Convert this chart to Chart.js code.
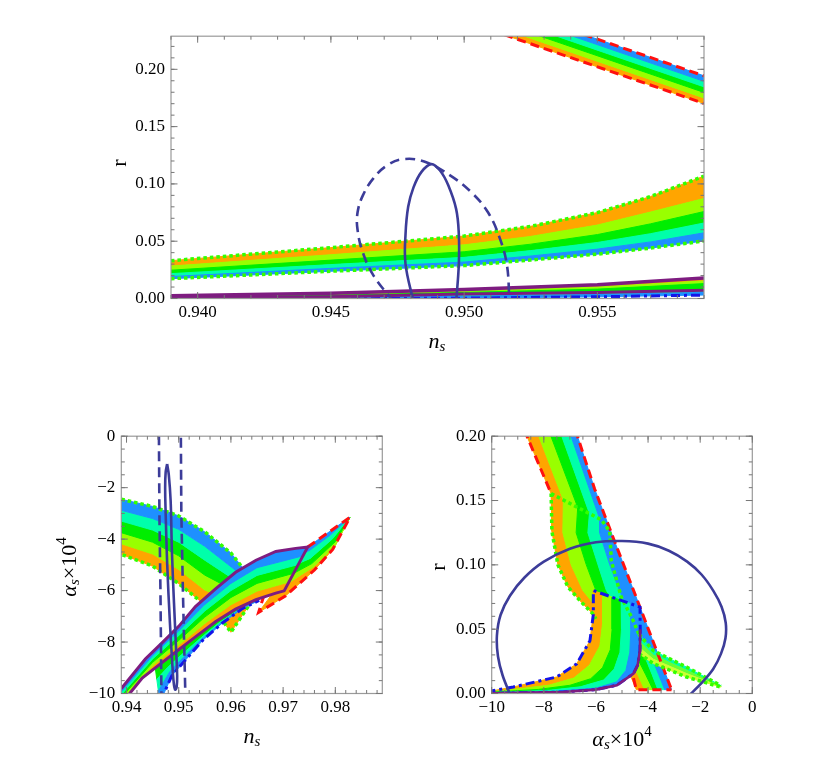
<!DOCTYPE html>
<html>
<head>
<meta charset="utf-8">
<script src="https://cdn.jsdelivr.net/npm/chart.js@4.4.1/dist/chart.umd.min.js"></script>
<style>
  html, body { margin: 0; padding: 0; background: #fff; }
  body { width: 817px; height: 772px; position: relative; overflow: hidden; }
  canvas { position: absolute; }
</style>
</head>
<body>
<canvas id="topChart" width="620" height="340" style="left:100px;top:20px"></canvas>
<canvas id="alphaChart" width="380" height="340" style="left:20px;top:420px"></canvas>
<canvas id="rChart" width="370" height="340" style="left:400px;top:420px"></canvas>
<script>
// ---------- colours ----------
const bandColors = ["#FFA500", "#99FF00", "#00EE00", "#00FFAA", "#1E90FF"];
const navy = "#3C3C99";
const purple = "#7E1C80";
const red = "#FF1010";
const lime = "#33FF00";
const blue = "#1414E8";

// ---------- top panel: r vs n_s ----------
const topTicksX = [0.940, 0.945, 0.950, 0.955];
const topLabelsX = ["0.940", "0.945", "0.950", "0.955"];
const topTicksY = [0, 0.05, 0.10, 0.15, 0.20];
const topLabelsY = ["0.00", "0.05", "0.10", "0.15", "0.20"];

// upper strip (red dashed edges), orange side first
const stripNs = [0.951, 0.959];
const stripR = [
  [0.2342, 0.1702],
  [0.2390, 0.1750],
  [0.2438, 0.1798],
  [0.2487, 0.1847],
  [0.2535, 0.1895],
  [0.2583, 0.1943]
];
// middle band (green dotted edges), orange side first
const bandNs = [0.939, 0.945, 0.950, 0.9525, 0.955, 0.957, 0.959];
const bandR = [
  [0.0330, 0.0444, 0.0545, 0.0630, 0.0750, 0.0890, 0.1068],
  [0.0283, 0.0382, 0.0468, 0.0542, 0.0641, 0.0755, 0.0873],
  [0.0247, 0.0335, 0.0408, 0.0474, 0.0558, 0.0652, 0.0759],
  [0.0217, 0.0296, 0.0359, 0.0418, 0.0489, 0.0566, 0.0659],
  [0.0192, 0.0263, 0.0318, 0.0371, 0.0431, 0.0494, 0.0573],
  [0.0173, 0.0238, 0.0287, 0.0336, 0.0387, 0.0440, 0.0502]
];
// thin band near r = 0 (purple / blue dash-dot)
const lowNs = [0.939, 0.945, 0.950, 0.955, 0.959];
const lowR = [
  [0.0025, 0.0045, 0.0079, 0.0120, 0.0178],
  [0.0020, 0.0036, 0.0065, 0.0100, 0.0153],
  [0.0015, 0.0028, 0.0053, 0.0082, 0.0130],
  [0.0005, 0.0015, 0.0039, 0.0052, 0.0073],
  [0.0001, 0.0007, 0.0020, 0.0035, 0.0053],
  [-0.0006, -0.0003, 0.0003, 0.0015, 0.0030]
];
const topSolidOval = [[0.9481,-0.003],[0.9478,0.03],[0.9478,0.056],[0.9479,0.08],[0.9481,0.097],[0.9484,0.1105],
  [0.94877,0.1173],[0.9491,0.1115],[0.9494,0.099],[0.9497,0.078],[0.9498,0.056],[0.9498,0.03],[0.9497,-0.003]];
const topDashedOval = [[0.94736,-0.003],[0.9466,0.02],[0.9462,0.04],[0.9460,0.06],[0.9460,0.075],[0.9462,0.09],
  [0.9466,0.105],[0.9471,0.116],[0.9477,0.1216],[0.9485,0.1195],[0.9495,0.107],[0.9503,0.092],[0.9509,0.075],
  [0.9513,0.055],[0.9516,0.03],[0.9517,-0.003]];

// ---------- bottom-left panel: alpha_s x 10^4 vs n_s ----------
const alTicksX = [0.94, 0.95, 0.96, 0.97, 0.98];
const alLabelsX = ["0.94", "0.95", "0.96", "0.97", "0.98"];
const alTicksY = [-10, -8, -6, -4, -2, 0];
const alLabelsY = ["\u221210", "\u22128", "\u22126", "\u22124", "\u22122", "0"];

// left band, green dotted outline, orange (lower) side first
const leftBand = [
  [[0.939,-4.59],[0.945,-5.05],[0.950,-5.73],[0.955,-6.55],[0.9585,-7.20],[0.9600,-7.62]],
  [[0.939,-4.18],[0.945,-4.58],[0.950,-5.18],[0.955,-5.98],[0.9632,-6.65]],
  [[0.939,-3.75],[0.945,-4.12],[0.950,-4.65],[0.955,-5.40],[0.9630,-6.25]],
  [[0.939,-3.30],[0.945,-3.65],[0.950,-4.12],[0.955,-4.82],[0.9627,-5.85]],
  [[0.939,-2.88],[0.945,-3.20],[0.950,-3.62],[0.955,-4.28],[0.9624,-5.45]],
  [[0.939,-2.45],[0.945,-2.73],[0.950,-3.10],[0.955,-3.72],[0.960,-4.54],[0.9622,-5.10]]
];
// red dashed wedge, orange side first
const redWedge = [
  [[0.9653,-6.85],[0.9705,-6.20],[0.9760,-5.20],[0.9795,-4.40],[0.9828,-3.15]],
  [[0.9680,-6.10],[0.9758,-5.08],[0.9800,-4.25],[0.9828,-3.15]],
  [[0.9700,-5.55],[0.9755,-4.95],[0.9800,-4.10],[0.9828,-3.15]],
  [[0.9700,-5.20],[0.9752,-4.75],[0.9795,-3.98],[0.9828,-3.15]],
  [[0.9700,-4.85],[0.9750,-4.45],[0.9790,-3.85],[0.9828,-3.15]],
  [[0.9700,-4.47],[0.9747,-4.31],[0.9828,-3.15]]
];
// purple band, orange (lower) side first
const purpleBand = [
  [[0.939,-10.4],[0.943,-9.4],[0.9468,-8.8],[0.950,-8.3],[0.9532,-7.8],[0.9571,-7.2],[0.9609,-6.72],[0.9648,-6.35],[0.9686,-6.1],[0.9702,-6.01]],
  [[0.939,-10.28],[0.945,-8.92],[0.950,-8.12],[0.955,-7.28],[0.960,-6.55],[0.965,-6.02],[0.9711,-5.67]],
  [[0.939,-10.16],[0.945,-8.79],[0.950,-7.94],[0.955,-7.03],[0.960,-6.27],[0.965,-5.72],[0.9720,-5.33]],
  [[0.939,-10.05],[0.945,-8.66],[0.950,-7.75],[0.955,-6.79],[0.960,-6.00],[0.965,-5.41],[0.9729,-4.99]],
  [[0.939,-9.93],[0.945,-8.53],[0.950,-7.57],[0.955,-6.54],[0.960,-5.72],[0.965,-5.11],[0.9738,-4.65]],
  [[0.939,-9.81],[0.9436,-8.66],[0.9468,-8.03],[0.950,-7.39],[0.9532,-6.62],[0.9571,-5.92],[0.9609,-5.29],[0.9648,-4.82],[0.9686,-4.48],[0.9724,-4.36],[0.9747,-4.31]]
];
// strip below the purple band, ending on the blue dash-dot curve
const underBand = [
  [[0.9455,-9.0],[0.9468,-8.8],[0.950,-8.3],[0.9532,-7.8],[0.9571,-7.2],[0.9609,-6.72],[0.9648,-6.35]],
  [[0.9458,-9.45],[0.9478,-9.0],[0.9505,-8.5],[0.9540,-7.88],[0.9578,-7.24],[0.9618,-6.70],[0.9651,-6.36]],
  [[0.9461,-9.9],[0.9483,-9.15],[0.9509,-8.6],[0.9543,-7.92],[0.9581,-7.25],[0.9620,-6.69],[0.9652,-6.37]],
  [[0.9465,-10.3],[0.9487,-9.3],[0.9513,-8.7],[0.9545,-7.95],[0.9583,-7.27],[0.9622,-6.7],[0.9654,-6.38]]
];
const alDashedOval = [[0.9467,-10.3],[0.9465,-6],[0.9463,-3],[0.9462,0.3],[0.9504,0.3],[0.9505,-3],[0.9508,-6],[0.9513,-10.3]];
const alSolidOval = [[0.94778,-1.08],[0.9481,-1.5],[0.94845,-2.5],[0.9487,-4.5],[0.9491,-6.5],[0.9495,-8.3],[0.9497,-9.3],
  [0.9496,-9.75],[0.9493,-9.85],[0.9490,-9.5],[0.9487,-8.6],[0.9483,-7.2],[0.9478,-5.0],[0.9475,-3.0],[0.9474,-2.0],
  [0.9475,-1.4],[0.94778,-1.08]];

// ---------- bottom-right panel: r vs alpha_s x 10^4 ----------
const rTicksX = [-10, -8, -6, -4, -2, 0];
const rLabelsX = ["\u221210", "\u22128", "\u22126", "\u22124", "\u22122", "0"];
const rTicksY = [0, 0.05, 0.10, 0.15, 0.20];
const rLabelsY = ["0.00", "0.05", "0.10", "0.15", "0.20"];

// main tilted band, orange (left) side first
const mainBand = [
  [[-8.75,0.205],[-7.72,0.1554],[-7.69,0.126],[-7.46,0.100],[-7.08,0.083],[-6.56,0.071],[-6.12,0.062],[-5.5,0.045],[-4.8,0.02],[-4.45,0.003]],
  [[-8.29,0.205],[-7.25,0.1505],[-7.27,0.125],[-6.95,0.100],[-6.5,0.08],[-5.7,0.06],[-4.9,0.035],[-4.4,0.015],[-4.13,0.003]],
  [[-7.82,0.205],[-6.70,0.1447],[-6.76,0.125],[-6.37,0.100],[-6.0,0.08],[-5.3,0.06],[-4.6,0.035],[-4.1,0.015],[-3.81,0.003]],
  [[-7.40,0.205],[-6.25,0.140],[-6.31,0.125],[-5.92,0.100],[-5.6,0.08],[-4.95,0.06],[-4.25,0.035],[-3.85,0.015],[-3.62,0.003]],
  [[-7.04,0.205],[-5.86,0.136],[-5.86,0.125],[-5.47,0.100],[-5.1,0.08],[-4.6,0.06],[-4.0,0.035],[-3.6,0.015],[-3.36,0.003]],
  [[-6.79,0.205],[-6.05,0.159],[-5.28,0.118],[-4.51,0.0777],[-3.74,0.0369],[-3.10,0.003]]
];
// tail to the right (green dotted), upper edge first
const tailBand = [
  [[-4.35,0.046],[-3.8,0.0333],[-2.52,0.0205],[-1.21,0.0062]],
  [[-4.35,0.041],[-3.8,0.0300],[-2.52,0.0180],[-1.21,0.0058]],
  [[-4.35,0.036],[-3.8,0.0267],[-2.52,0.0155],[-1.21,0.0054]],
  [[-4.35,0.031],[-3.8,0.0233],[-2.52,0.0128],[-1.21,0.0050]]
];
// blue dash-dot region, orange (left) side first
const cupBand = [
  [[-6.10,0.080],[-6.10,0.0615],[-6.23,0.041],[-6.74,0.023],[-7.51,0.0128],[-9.17,0.0051],[-10.2,0.0012]],
  [[-5.74,0.0774],[-5.74,0.055],[-5.85,0.037],[-6.25,0.022],[-6.85,0.012],[-7.8,0.0065],[-8.8,0.004],[-10.2,0.001]],
  [[-5.38,0.0749],[-5.38,0.05],[-5.45,0.034],[-5.75,0.02],[-6.2,0.0115],[-7.0,0.0064],[-8.2,0.0032],[-10.2,0.0008]],
  [[-5.03,0.0723],[-5.02,0.05],[-5.08,0.032],[-5.3,0.019],[-5.7,0.0105],[-6.6,0.0052],[-7.8,0.0025],[-10.2,0.0005]],
  [[-4.67,0.0698],[-4.66,0.05],[-4.70,0.032],[-4.85,0.018],[-5.2,0.009],[-6.0,0.0042],[-7.5,0.0018],[-10.2,0.0003]],
  [[-4.31,0.0672],[-4.30,0.05],[-4.31,0.0333],[-4.40,0.022],[-4.56,0.0154],[-5.2,0.0064],[-6.0,0.003],[-7.25,0.0012],[-10.2,0.0]]
];
const greenLeft = [[-7.72,0.1554],[-7.69,0.126],[-7.46,0.100],[-7.08,0.083],[-6.56,0.071],[-6.12,0.062],[-6.0,0.058]];
const greenInner = [[-7.72,0.1554],[-6.76,0.1452],[-5.79,0.135],[-5.47,0.126],[-5.41,0.103],[-5.03,0.075],[-4.6,0.058],[-4.35,0.046]];
const redTop = [[-8.75,0.205],[-7.72,0.1554]];
const redFoot = [[-4.56,0.012],[-4.45,0.003],[-3.10,0.003]];
const rOval = [[-9.25,-0.003],[-9.58,0.014],[-9.76,0.029],[-9.80,0.045],[-9.66,0.061],[-9.30,0.076],[-8.75,0.090],
  [-8.0,0.1025],[-7.0,0.1125],[-6.0,0.1175],[-5.0,0.1185],[-4.0,0.1165],[-3.2,0.111],[-2.5,0.1025],[-1.95,0.0925],
  [-1.5,0.080],[-1.18,0.0675],[-1.02,0.055],[-1.03,0.043],[-1.2,0.031],[-1.5,0.019],[-1.95,0.008],[-2.45,-0.002]];

// ---------- helpers ----------
function zip(xs, ys) { return xs.map((x, i) => [x, ys[i]]); }
function pts(a) { return a.map(p => ({ x: p[0], y: p[1] })); }
function poly(a, color) {
  return { data: pts(a.concat([a[0]])), fill: "shape", backgroundColor: color, borderColor: color,
    borderWidth: 1, pointRadius: 0, tension: 0, clip: 0 };
}
function stripes(bounds, colors) {
  const out = [];
  for (let i = 0; i < bounds.length - 1; i++) {
    out.push(poly(bounds[i].concat(bounds[i + 1].slice().reverse()), colors[i]));
  }
  return out;
}
function line(a, color, width, dash, tension) {
  return { data: pts(a), borderColor: color, borderWidth: width, borderDash: dash || [], fill: false,
    pointRadius: 0, tension: tension || 0, clip: 0, borderCapStyle: "butt" };
}
function steps(a, b, s) {
  const out = [];
  for (let v = a; v <= b + s / 1000; v += s) out.push(+v.toFixed(6));
  return out;
}

const dashRed = [9, 5];
const dotGreen = [3.5, 3];
const dashDot = [9, 4, 3, 4];
const dashNavy = [10, 6];

// title pieces
const F = '"Liberation Serif", "Times New Roman", serif';
const nsTitle = [{ t: "n", font: "italic 22px " + F }, { t: "s", font: "italic 15px " + F, dy: 5 }];
const alphaTitle = [{ t: "\u03B1", font: "italic 22px " + F }, { t: "s", font: "italic 15px " + F, dy: 5 },
  { t: "\u00D710", font: "22px " + F }, { t: "4", font: "15px " + F, dy: -8 }];
const rTitle = [{ t: "r", font: "22px " + F }];

function drawRich(ctx, segs, cx, cy, rot) {
  ctx.save();
  ctx.translate(cx, cy);
  ctx.rotate(rot || 0);
  let w = 0;
  segs.forEach(s => { ctx.font = s.font; w += ctx.measureText(s.t).width; });
  let x = -w / 2;
  ctx.textBaseline = "middle";
  ctx.fillStyle = "#000";
  segs.forEach(s => { ctx.font = s.font; ctx.fillText(s.t, x, s.dy || 0); x += ctx.measureText(s.t).width; });
  ctx.restore();
}

// frame with inward ticks on all four sides, plus axis titles
const framePlugin = {
  id: "frame",
  afterDraw(chart, args, o) {
    const { ctx, chartArea: { left, top, right, bottom }, scales: { x, y } } = chart;
    ctx.save();
    ctx.strokeStyle = "#9a9a9a";
    ctx.lineWidth = 1.2;
    ctx.strokeRect(left, top, right - left, bottom - top);
    ctx.strokeStyle = "#777";
    ctx.lineWidth = 1;
    const drawX = (vals, len) => vals.forEach(v => {
      const px = x.getPixelForValue(v);
      if (px < left - 0.5 || px > right + 0.5) return;
      ctx.beginPath();
      ctx.moveTo(px, bottom); ctx.lineTo(px, bottom - len);
      ctx.moveTo(px, top); ctx.lineTo(px, top + len);
      ctx.stroke();
    });
    const drawY = (vals, len) => vals.forEach(v => {
      const py = y.getPixelForValue(v);
      if (py < top - 0.5 || py > bottom + 0.5) return;
      ctx.beginPath();
      ctx.moveTo(left, py); ctx.lineTo(left + len, py);
      ctx.moveTo(right, py); ctx.lineTo(right - len, py);
      ctx.stroke();
    });
    drawX(o.xMinor, 3.5); drawX(o.xMajor, 6.5);
    drawY(o.yMinor, 3.5); drawY(o.yMajor, 6.5);
    o.titles.forEach(t => drawRich(ctx, t.segs, t.x, t.y, t.rot));
    ctx.restore();
  }
};

function axis(min, max, ticks, labels, dir) {
  return {
    type: "linear", min: min, max: max, bounds: "data",
    grid: { display: false, drawTicks: false },
    border: { display: false },
    ticks: {
      autoSkip: false, maxRotation: 0, color: "#000",
      font: { family: "'Liberation Serif', serif", size: 17 },
      padding: dir === "x" ? 4 : 6,
      callback: (v, i) => labels[i]
    },
    afterBuildTicks: s => { s.ticks = ticks.map(v => ({ value: v })); },
    afterFit: s => { if (dir === "x") s.height = 30; else s.width = 60; }
  };
}

function makeChart(id, c) {
  return new Chart(document.getElementById(id), {
    type: "line",
    data: { datasets: c.layers.slice().reverse() },
    options: {
      responsive: false, animation: false, devicePixelRatio: 1,
      layout: { padding: c.padding },
      plugins: { legend: { display: false }, tooltip: { enabled: false }, frame: c.frame },
      scales: {
        x: axis(c.xMin, c.xMax, c.xTicks, c.xLabels, "x"),
        y: axis(c.yMin, c.yMax, c.yTicks, c.yLabels, "y")
      }
    },
    plugins: [framePlugin]
  });
}

// ---------- top chart ----------
const stripLines = stripR.map(r => zip(stripNs, r));
const bandLines = bandR.map(r => zip(bandNs, r));
const lowLines = lowR.map(r => zip(lowNs, r));
makeChart("topChart", {
  xMin: 0.939, xMax: 0.959, yMin: 0, yMax: 0.2289,
  xTicks: topTicksX, xLabels: topLabelsX, yTicks: topTicksY, yLabels: topLabelsY,
  padding: { left: 11, top: 12.3, right: 16, bottom: 31.5 },
  frame: {
    xMajor: topTicksX, xMinor: steps(0.939, 0.959, 0.001),
    yMajor: topTicksY, yMinor: steps(0, 0.22, 0.01),
    titles: [
      { segs: rTitle, x: 20, y: 143, rot: -Math.PI / 2 },
      { segs: nsTitle, x: 337, y: 322 }
    ]
  },
  layers: [].concat(
    stripes(stripLines, bandColors),
    [line(stripLines[0], red, 3, dashRed), line(stripLines[5], red, 3, dashRed)],
    stripes(bandLines, bandColors),
    [line(bandLines[0], lime, 3.5, dotGreen), line(bandLines[5], lime, 3.5, dotGreen)],
    stripes(lowLines, bandColors),
    [line(lowLines[5], blue, 3, dashDot), line(lowLines[3], purple, 3), line(lowLines[0], purple, 3.5)],
    [line(topDashedOval, navy, 2.6, dashNavy, 0.4), line(topSolidOval, navy, 2.6, [], 0.4)]
  )
});

// ---------- bottom-left chart ----------
const leftOutline = leftBand[5].concat([[0.9632, -6.65]], leftBand[0].slice().reverse());
const purpleOutline = purpleBand[5].concat(purpleBand[0].slice().reverse());
const redOutline = [[0.9747, -4.31]].concat(redWedge[0].slice().reverse(), [[0.9663, -6.2]]);
makeChart("alphaChart", {
  xMin: 0.939, xMax: 0.989, yMin: -10, yMax: 0,
  xTicks: alTicksX, xLabels: alLabelsX, yTicks: alTicksY, yLabels: alLabelsY,
  padding: { left: 41.3, top: 13.3, right: 17.7, bottom: 36.5 },
  frame: {
    xMajor: alTicksX, xMinor: steps(0.94, 0.988, 0.002),
    yMajor: alTicksY, yMinor: steps(-10, 0, 0.5),
    titles: [
      { segs: alphaTitle, x: 50, y: 147, rot: -Math.PI / 2 },
      { segs: nsTitle, x: 232, y: 317 }
    ]
  },
  layers: [].concat(
    stripes(leftBand, bandColors),
    [line(leftOutline, lime, 3.5, dotGreen)],
    stripes(redWedge, bandColors),
    [line(redOutline, red, 3, dashRed)],
    stripes(purpleBand, bandColors),
    stripes(underBand, ["#00EE00", "#00FFAA", "#1E90FF"]),
    [line(underBand[3], blue, 3, dashDot)],
    [line(purpleOutline, purple, 3)],
    [line(alDashedOval, navy, 2.6, dashNavy), line(alSolidOval, navy, 2.6, [], 0.4)]
  )
});

// ---------- bottom-right chart ----------
const cupOutline = cupBand[0].slice().reverse().concat(cupBand[5]);
makeChart("rChart", {
  xMin: -10, xMax: 0, yMin: 0, yMax: 0.2,
  xTicks: rTicksX, xLabels: rLabelsX, yTicks: rTicksY, yLabels: rLabelsY,
  padding: { left: 31.7, top: 13.3, right: 17.7, bottom: 36.5 },
  frame: {
    xMajor: rTicksX, xMinor: steps(-10, 0, 0.5),
    yMajor: rTicksY, yMinor: steps(0, 0.2, 0.01),
    titles: [
      { segs: rTitle, x: 39, y: 147, rot: -Math.PI / 2 },
      { segs: alphaTitle, x: 222, y: 320 }
    ]
  },
  layers: [].concat(
    stripes(mainBand, bandColors),
    stripes(tailBand, ["#00FFAA", "#66FF33", "#CCFF33"]),
    stripes(cupBand, bandColors),
    [line(mainBand[5], red, 3, dashRed), line(redTop, red, 3, dashRed), line(redFoot, red, 3, dashRed)],
    [line(greenLeft, lime, 3.5, dotGreen), line(greenInner, lime, 3.5, dotGreen),
     line(tailBand[0], lime, 3.5, dotGreen), line(tailBand[3], lime, 3.5, dotGreen)],
    [line(cupOutline, blue, 3, dashDot), line(cupBand[5].slice(1), purple, 2.6)],
    [line(rOval, navy, 2.6, [], 0.3)]
  )
});
</script>
</body>
</html>
